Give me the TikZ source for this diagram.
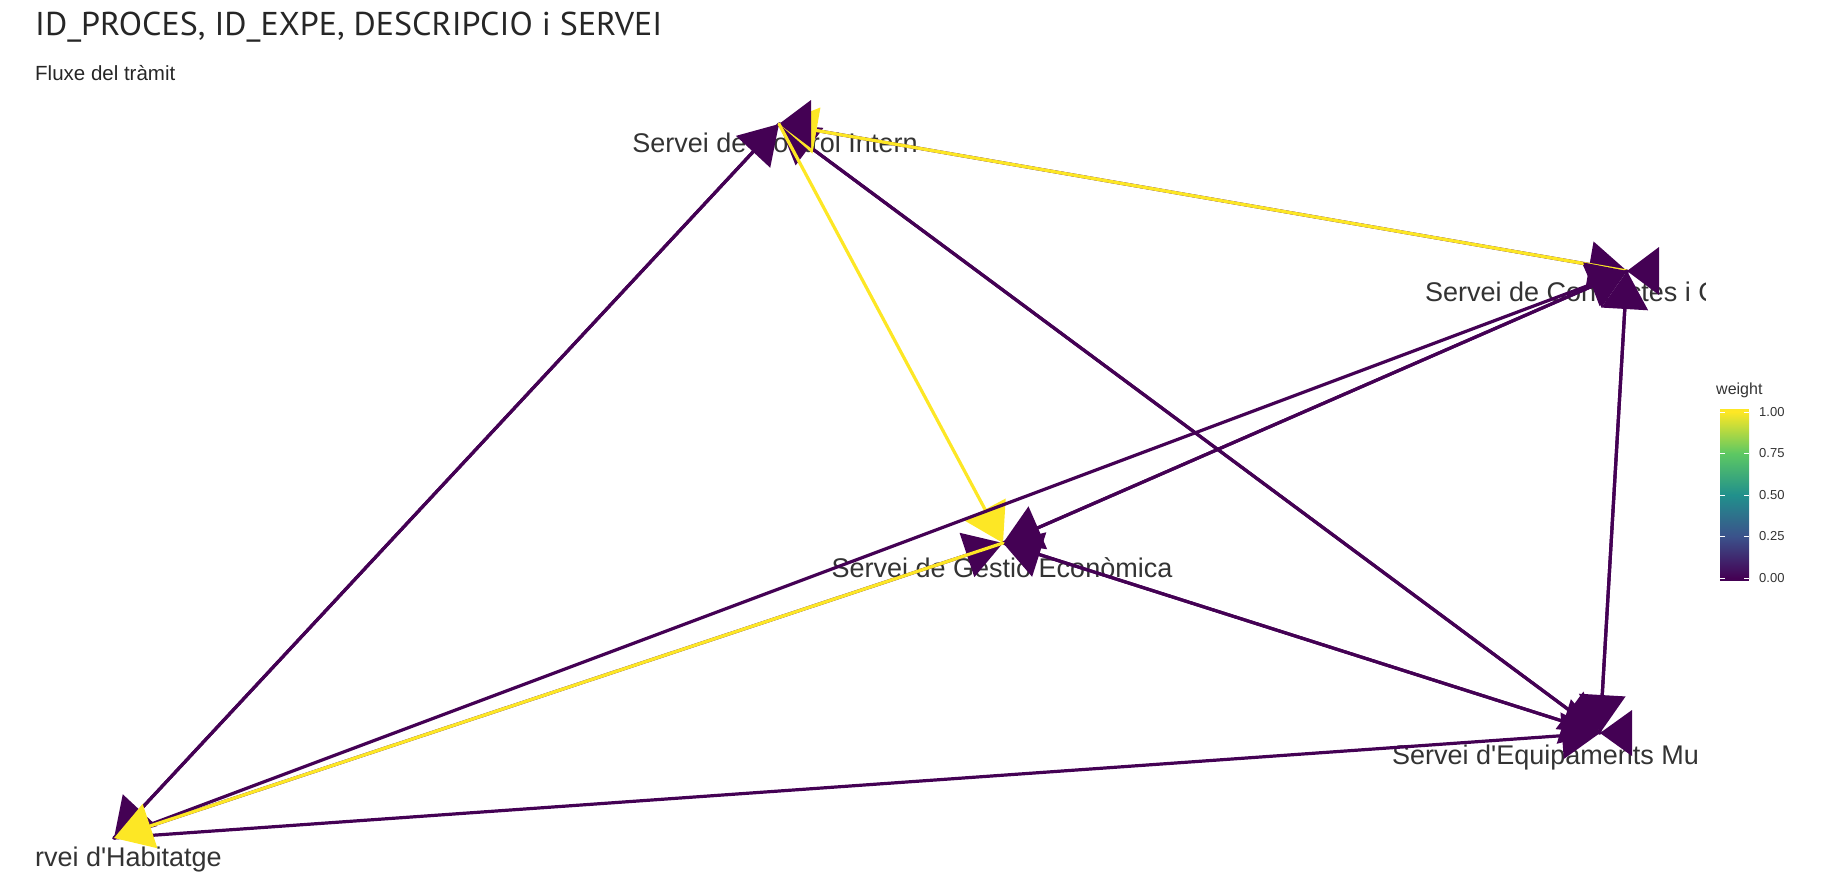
\documentclass[tikz,border=0pt]{standalone}
\usepackage{fontspec}
\setmainfont{Liberation Sans}
\newfontfamily\titlefont{PT Sans}
\usetikzlibrary{arrows.meta}
\definecolor{vir0}{HTML}{440154}
\definecolor{vir1}{HTML}{3B528B}
\definecolor{vir2}{HTML}{21908C}
\definecolor{vir3}{HTML}{5DC863}
\definecolor{vir4}{HTML}{FDE725}
\definecolor{labtext}{HTML}{333333}

\begin{document}
\begin{tikzpicture}[x=1pt,y=1pt,
    lab/.style={inner sep=0pt,text=labtext,font=\fontsize{27}{27}\selectfont},
    wlow/.style={color=vir0,line width=3.2pt,line cap=round,
      -{Triangle[length=38pt,width=46pt]}},
    whigh/.style={wlow,color=vir4},
    selfloop/.style={fill=vir0}]
  \useasboundingbox (0,0) rectangle (1834,-879);

  % services
  \coordinate (ci) at (779,-124);  % Control Intern
  \coordinate (co) at (1627,-271); % Contractes
  \coordinate (ge) at (1003,-543); % Gestio Economica
  \coordinate (eq) at (1600,-733); % Equipaments
  \coordinate (ha) at (114,-838);  % Habitatge

  \node[anchor=west,inner sep=0pt,text=black!85,xscale=1.03,
    font=\titlefont\fontsize{33}{33}\selectfont] (title) at (35,-27)
    {ID\_PROCES, ID\_EXPE, DESCRIPCIO i SERVEI};
  \node[anchor=west,inner sep=0pt,text=black!85,
    font=\fontsize{20.5}{20.5}\selectfont] (subtitle) at (35,-73) {Fluxe del tràmit};

  \begin{scope}
    \clip (35,0) rectangle (1705,-879);
    \node[lab] (lci) at (775,-143) {Servei de Control Intern};
    \node[lab,anchor=west] (lco) at (1425,-292) {Servei de Contractes i Co};
    \node[lab] (lge) at (1002,-568) {Servei de Gestió Econòmica};
    \node[lab,anchor=west] (leq) at (1392,-758) {Servei d\textquotesingle Equipaments Mu};
    \node[lab,anchor=east] (lha) at (222,-860) {rvei d\textquotesingle Habitatge};
  \end{scope}

  % edges, in drawing order
  \path[wlow] (ci) edge (ha)
    (ha) edge (ci)
    (eq) edge (ci)
    (ci) edge (eq)
    (ci) edge (co);
  \path[whigh] (co) edge (ci);
  \fill[selfloop] (ci) -- ++(32,24) -- ++(0,-48) -- cycle;
  \path[whigh] (ci) edge (ge);
  \path[wlow] (ha) edge (ge);
  \path[wlow] (ha) edge (co)
    (ge) edge (co)
    (co) edge (ge)
    (ge) edge (eq)
    (eq) edge (ge)
    (ha) edge (eq)
    (co) edge (eq)
    (eq) edge (co);
  \path[whigh] (ge) edge (ha);
  \fill[selfloop] (co) -- ++(32,24) -- ++(0,-48) -- cycle;
  \fill[selfloop] (eq) -- ++(32,23) -- ++(0,-46) -- cycle;

  % legend
  \node[anchor=west,inner sep=0pt,text=labtext,font=\fontsize{16}{16}\selectfont]
    (legtitle) at (1716,-390) {weight};
  \shade[bottom color=vir0,top color=vir1] (1720,-578) rectangle (1749,-536.5);
  \shade[bottom color=vir1,top color=vir2] (1720,-536.5) rectangle (1749,-495);
  \shade[bottom color=vir2,top color=vir3] (1720,-495) rectangle (1749,-453.5);
  \shade[bottom color=vir3,top color=vir4] (1720,-453.5) rectangle (1749,-412);
  \fill[vir0] (1720,-578) rectangle (1749,-581);
  \fill[vir4] (1720,-409) rectangle (1749,-412);
  \foreach \v/\t in {0/0.00,1/0.25,2/0.50,3/0.75,4/1.00} {
    \draw[white,line width=1pt] (1720,-578+41.5*\v) -- ++(5,0)
      (1749,-578+41.5*\v) -- ++(-5,0);
    \node[anchor=west,inner sep=0pt,text=labtext,font=\fontsize{13}{13}\selectfont]
      (tick\v) at (1759,-578+41.5*\v) {\t};
  }
\end{tikzpicture}
\end{document}
